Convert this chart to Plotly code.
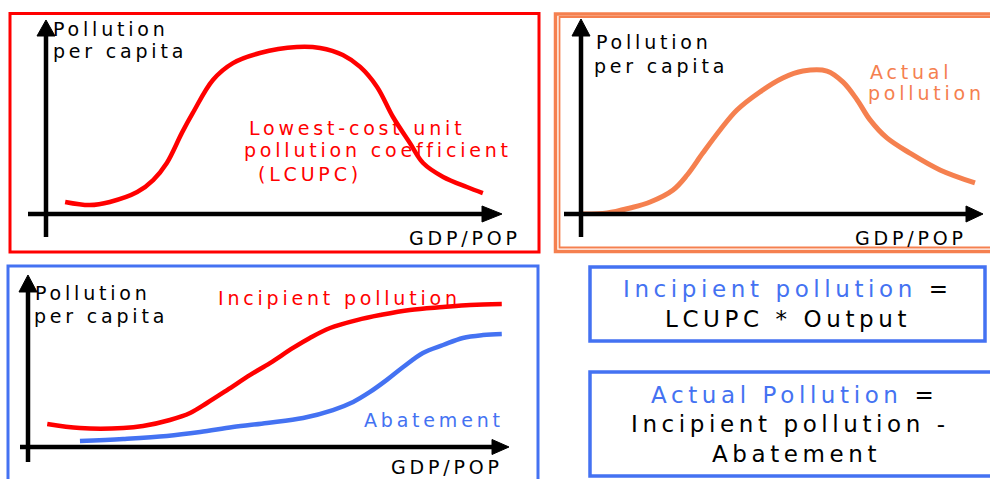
import plotly.graph_objects as go

W, H = 990, 479

# ---- data ----
lcupc_x = [0.42, 0.96, 1.40, 2.00, 2.35, 2.65, 2.98, 3.22, 3.66, 4.10, 4.69, 5.50, 6.01, 6.51, 6.89, 7.26, 7.61, 7.98, 8.27, 8.71, 9.23, 9.58]
lcupc_y = [0.62, 0.46, 0.62, 1.13, 1.75, 2.63, 4.18, 5.21, 6.91, 7.78, 8.30, 8.61, 8.56, 8.20, 7.58, 6.55, 5.00, 3.66, 2.63, 1.91, 1.39, 1.08]

actual_x = [0.02, 0.65, 1.22, 1.72, 2.29, 2.64, 3.03, 3.46, 3.88, 4.45, 5.02, 5.52, 6.12, 6.52, 6.87, 7.19, 7.61, 8.18, 8.93, 9.80]
actual_y = [0.00, 0.05, 0.31, 0.62, 1.24, 2.01, 3.14, 4.33, 5.36, 6.29, 7.01, 7.37, 7.37, 6.80, 5.88, 4.85, 3.92, 3.14, 2.27, 1.60]

incip_x = [0.40, 1.08, 1.98, 2.39, 2.95, 3.37, 3.72, 4.14, 4.62, 5.03, 5.51, 5.86, 6.28, 6.84, 7.32, 7.94, 8.63, 9.19, 9.85]
incip_y = [1.34, 1.10, 1.10, 1.22, 1.57, 1.98, 2.56, 3.31, 4.19, 4.88, 5.76, 6.34, 6.92, 7.38, 7.67, 7.97, 8.14, 8.26, 8.31]

abate_x = [1.08, 1.98, 2.89, 3.58, 4.26, 4.97, 5.72, 6.34, 6.76, 7.11, 7.46, 7.80, 8.21, 8.63, 9.04, 9.46, 9.85]
abate_y = [0.35, 0.47, 0.64, 0.87, 1.16, 1.40, 1.69, 2.15, 2.62, 3.20, 3.90, 4.65, 5.47, 5.93, 6.34, 6.51, 6.57]

RED = "#FF0000"
ORANGE = "#F5804F"
BLUE = "#4472F2"
BLACK = "#000000"
FONT = "DejaVu Sans"


def px(x):
    return x / W


def py(y):
    return 1 - y / H


fig = go.Figure()
fig.add_trace(go.Scatter(x=lcupc_x, y=lcupc_y, mode="lines", line=dict(color=RED, width=4.5, shape="spline"),
                         xaxis="x", yaxis="y", hoverinfo="skip"))
fig.add_trace(go.Scatter(x=actual_x, y=actual_y, mode="lines", line=dict(color=ORANGE, width=5, shape="spline"),
                         xaxis="x2", yaxis="y2", hoverinfo="skip"))
fig.add_trace(go.Scatter(x=incip_x, y=incip_y, mode="lines", line=dict(color=RED, width=4.5, shape="spline"),
                         xaxis="x3", yaxis="y3", hoverinfo="skip"))
fig.add_trace(go.Scatter(x=abate_x, y=abate_y, mode="lines", line=dict(color=BLUE, width=4.5, shape="spline"),
                         xaxis="x3", yaxis="y3", hoverinfo="skip"))

hidden = dict(visible=False, showgrid=False, zeroline=False, fixedrange=True, range=[0, 10])

shapes = []


def rect(x0, y0, x1, y1, color, width):
    shapes.append(dict(type="rect", xref="paper", yref="paper", x0=px(x0), x1=px(x1), y0=py(y0), y1=py(y1),
                       line=dict(color=color, width=width), fillcolor="rgba(0,0,0,0)", layer="below"))


def line(x0, y0, x1, y1, width=4.5):
    shapes.append(dict(type="line", xref="paper", yref="paper", x0=px(x0), x1=px(x1), y0=py(y0), y1=py(y1),
                       line=dict(color=BLACK, width=width)))


def tri(pts):
    d = "M " + " L ".join(f"{px(a):.5f},{py(b):.5f}" for a, b in pts) + " Z"
    shapes.append(dict(type="path", xref="paper", yref="paper", path=d, fillcolor=BLACK,
                       line=dict(color=BLACK, width=1)))


# frames
rect(10, 13.5, 539, 252, RED, 3)
rect(555.5, 14, 1000, 251.5, ORANGE, 3.5)
rect(559.5, 17, 1000, 247.5, ORANGE, 1.8)
rect(8, 266, 538, 495, BLUE, 3)
rect(590, 267, 985, 341, BLUE, 3.5)
rect(590, 372, 1000, 476, BLUE, 3.5)

# axis arrows panel 1
line(46, 237, 46, 34)
tri([(46, 20), (37, 36), (55, 36)])
line(28, 214, 484, 214)
tri([(502, 214), (482, 206), (482, 222)])
# panel 2
line(581, 237, 581, 34)
tri([(581, 19), (572, 36), (590, 36)])
line(564, 214, 968, 214)
tri([(983, 214), (966, 206), (966, 222)])
# panel 3
line(28, 462, 28, 290)
tri([(28, 275), (19, 292), (37, 292)])
line(20, 447, 494, 447)
tri([(509, 447), (492, 439.5), (492, 454.5)])

annotations = []


def label(text, cx, cy, size, color=BLACK, ls=None):
    if ls is None:
        ls = round(size * 0.2, 1)
    annotations.append(dict(text=f'<span style="letter-spacing:{ls}px">{text}</span>', xref="paper", yref="paper",
                            x=px(cx), y=py(cy), xanchor="center", yanchor="middle", showarrow=False,
                            font=dict(family=FONT, size=size, color=color)))


S = 19
B = 23
# panel 1
label("Pollution", 111, 29.4, S)
label("per capita", 119.5, 51.4, S)
label("Lowest-cost unit", 356.5, 128.4, S, RED)
label("pollution coefficient", 378, 150.4, S, RED)
label("(LCUPC)", 309.5, 174.4, S, RED)
label("GDP/POP", 464.5, 238.4, S)
# panel 2
label("Pollution", 653.5, 42.4, S)
label("per capita", 661, 66, S)
label("Actual", 911, 72.4, S, ORANGE)
label("pollution", 926, 93.4, S, ORANGE)
label("GDP/POP", 911, 238.4, S)
# panel 3
label("Pollution", 92.5, 293.4, S)
label("per capita", 100.5, 316.4, S)
label("Incipient pollution", 339.5, 298.4, S, RED)
label("Abatement", 433.5, 420.4, S, BLUE)
label("GDP/POP", 446.5, 466.5, S)
# formula boxes
label(f'<span style="color:{BLUE}">Incipient pollution</span> =', 787.5, 289, B)
label("LCUPC * Output", 787.5, 319, B)
label(f'<span style="color:{BLUE}">Actual Pollution</span> =', 794, 395, B)
label("Incipient pollution -", 790.5, 424, B)
label("Abatement", 796, 454, B)

fig.update_layout(
    width=W, height=H,
    margin=dict(l=0, r=0, t=0, b=0),
    paper_bgcolor="white", plot_bgcolor="rgba(0,0,0,0)",
    showlegend=False,
    xaxis=dict(domain=[px(46), px(502)], anchor="y", **hidden),
    yaxis=dict(domain=[py(214), py(20)], anchor="x", **hidden),
    xaxis2=dict(domain=[px(581), px(983)], anchor="y2", **hidden),
    yaxis2=dict(domain=[py(214), py(20)], anchor="x2", **hidden),
    xaxis3=dict(domain=[px(28), px(509)], anchor="y3", **hidden),
    yaxis3=dict(domain=[py(447), py(275)], anchor="x3", **hidden),
    shapes=shapes,
    annotations=annotations,
)

fig.write_html("out.html", config={"displayModeBar": False},
               post_script="document.body.style.margin='0';document.body.style.overflow='hidden';")
